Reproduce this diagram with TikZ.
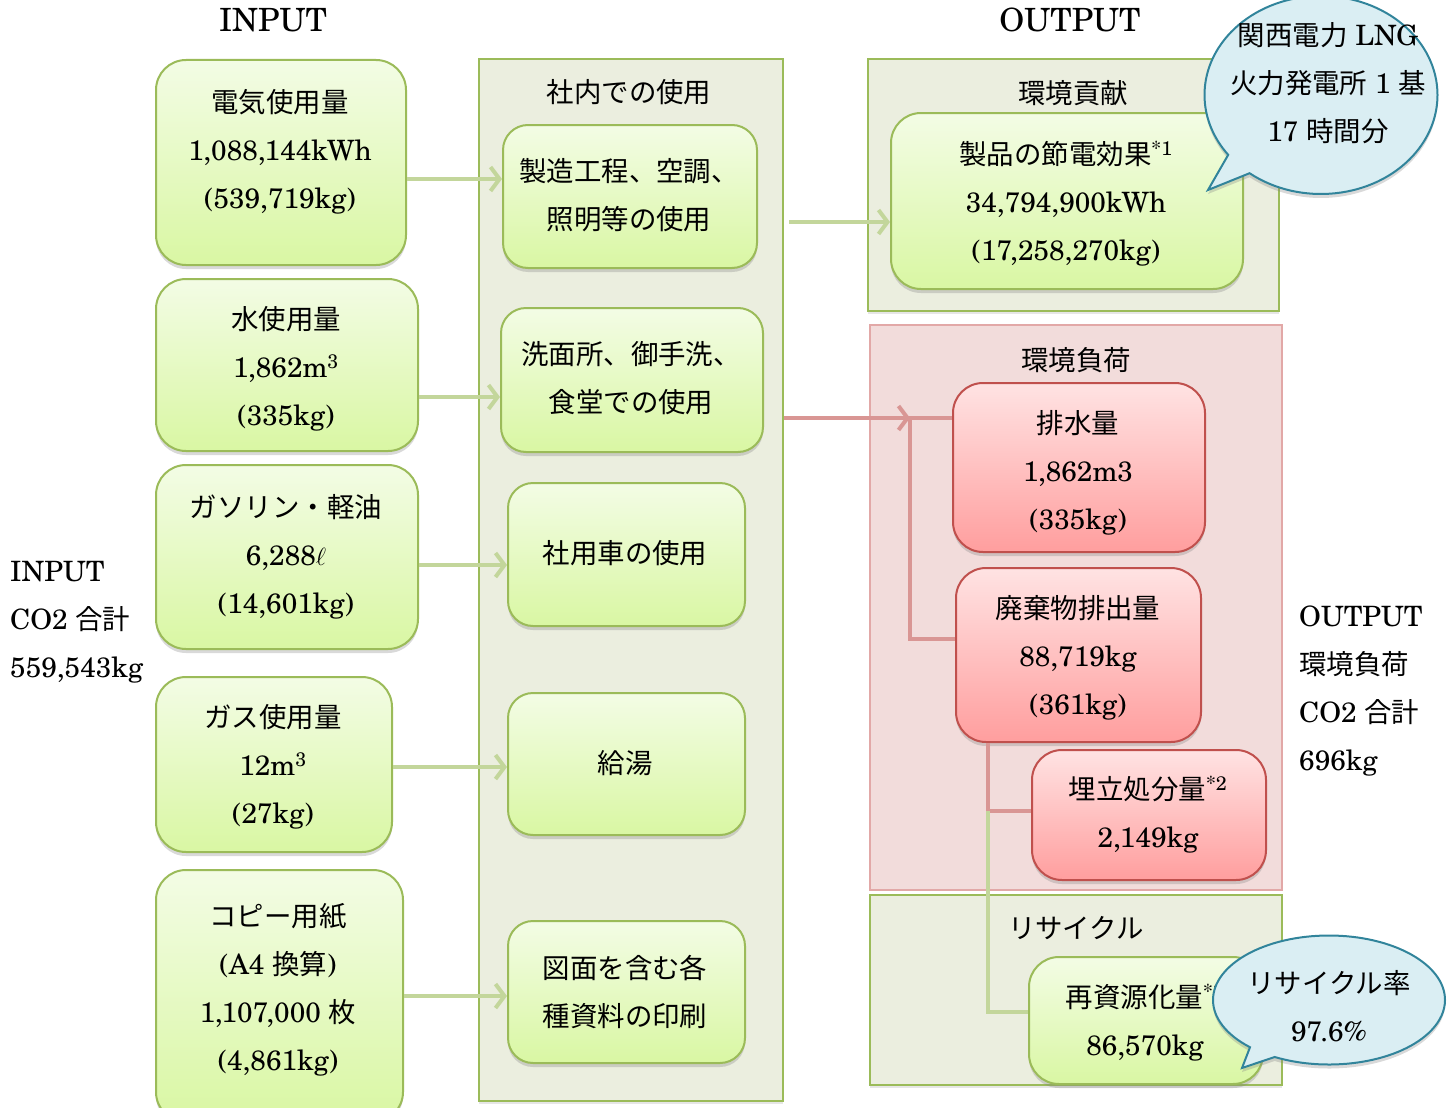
\documentclass[tikz,border=0pt]{standalone}
\usepackage{fontspec}
\setmainfont{texgyreschola-regular.otf}
\newfontfamily\jpf[Scale=0.98]{Noto Sans CJK JP}
\usetikzlibrary{arrows.meta,shadows,shapes.callouts}
\newcommand\J[1]{{\jpf #1}}
\definecolor{gborder}{HTML}{9BBB59}
\definecolor{gtop}{HTML}{F3FCE5}
\definecolor{gbot}{HTML}{D9F7A3}
\definecolor{rborder}{HTML}{C0504D}
\definecolor{rtop}{HTML}{FFE3E3}
\definecolor{rbot}{HTML}{FF9E9E}
\definecolor{cfill}{HTML}{EBEEDF}
\definecolor{pfill}{HTML}{F2DCDB}
\definecolor{pborder}{HTML}{E2A8A7}
\definecolor{garrow}{HTML}{C3D69B}
\definecolor{parrow}{HTML}{D99694}
\definecolor{bfill}{HTML}{DAEEF3}
\definecolor{bborder}{HTML}{31849B}
\tikzset{
  shad/.style={drop shadow={shadow xshift=0pt,shadow yshift=-4pt,opacity=0.3}},
  gbox/.style={draw=gborder, line width=2pt, rounded corners=30pt, top color=gtop, bottom color=gbot, shad, anchor=north west, inner sep=0pt},
  mbox/.style={gbox, rounded corners=25pt},
  rbox/.style={draw=rborder, line width=2pt, rounded corners=30pt, top color=rtop, bottom color=rbot, shad, anchor=north west, inner sep=0pt},
  cont/.style={draw=gborder, fill=cfill, line width=2pt, anchor=north west, inner sep=0pt, drop shadow={shadow xshift=0pt,shadow yshift=-3pt,opacity=0.2}},
  pcont/.style={draw=pborder, fill=pfill, line width=2pt, anchor=north west, inner sep=0pt},
  txt/.style={font=\fontsize{28}{48}\selectfont, align=center, inner sep=0pt},
  ltxt/.style={font=\fontsize{28}{48}\selectfont, align=left, inner sep=0pt, anchor=west},
  ttl/.style={font=\fontsize{32}{36}\selectfont, inner sep=0pt},
  garr/.style={draw=garrow, line width=4pt, -{Straight Barb[length=9pt,width=24pt]}},
  parr/.style={draw=parrow, line width=4pt, -{Straight Barb[length=9pt,width=24pt]}},
  gline/.style={draw=garrow, line width=4pt},
  pline/.style={draw=parrow, line width=4pt},
  bubble/.style={ellipse callout, draw=bborder, fill=bfill, line width=2pt, inner sep=0pt, shad},
}
\begin{document}
\begin{tikzpicture}[x=1pt,y=-1pt]
\useasboundingbox (0,0) rectangle (1451,1108);
% titles
\node[ttl] (tin) at (273,20) {INPUT};
\node[ttl] (tout) at (1070,20) {OUTPUT};
\node[ltxt] (sin) at (10,622) {INPUT\\CO2 \J{合計}\\559,543kg};
\node[ltxt] (sout) at (1299,691) {OUTPUT\\\J{環境負荷}\\CO2 \J{合計}\\696kg};

% containers
\node[cont, minimum width=304pt, minimum height=1042pt] (mc) at (478,58) {};
\node[txt] (mct) at (629,92) {\J{社内での使用}};
\node[cont, minimum width=411pt, minimum height=252pt] (oc1) at (867,58) {};
\node[txt] (oc1t) at (1073,93) {\J{環境貢献}};
\node[pcont, minimum width=412pt, minimum height=565pt] (oc2) at (869,324) {};
\node[txt] (oc2t) at (1076,360) {\J{環境負荷}};
\node[cont, minimum width=412pt, minimum height=190pt] (oc3) at (869,894) {};
\node[txt] (oc3t) at (1076,928) {\J{リサイクル}};

% input boxes
\node[gbox, minimum width=250pt, minimum height=205pt] (in1) at (155,59) {};
\node[txt] (in1t) at (280,152) {\J{電気使用量}\\1,088,144kWh\\(539,719kg)};
\node[gbox, minimum width=262pt, minimum height=172pt] (in2) at (155,278) {};
\node[txt] (in2t) at (286,369) {\J{水使用量}\\1,862m\textsuperscript{3}\\(335kg)};
\node[gbox, minimum width=262pt, minimum height=184pt] (in3) at (155,464) {};
\node[txt] (in3t) at (286,557) {\J{ガソリン・軽油}\\6,288$\ell$\\(14,601kg)};
\node[gbox, minimum width=236pt, minimum height=175pt] (in4) at (155,676) {};
\node[txt] (in4t) at (273,767) {\J{ガス使用量}\\12m\textsuperscript{3}\\(27kg)};
\node[gbox, minimum width=247pt, minimum height=252pt] (in5) at (155,869) {};
\node[txt] (in5t) at (278,990) {\J{コピー用紙}\\(A4 \J{換算})\\1,107,000 \J{枚}\\(4,861kg)};

% middle boxes
\node[mbox, minimum width=254pt, minimum height=143pt] (ma) at (502,124) {};
\node[txt] (mat) at (629,195.5) {\J{製造工程、空調、}\\\J{照明等の使用}};
\node[mbox, minimum width=262pt, minimum height=144pt] (mb) at (500,307) {};
\node[txt] (mbt) at (631,378.5) {\J{洗面所、御手洗、}\\\J{食堂での使用}};
\node[mbox, minimum width=237pt, minimum height=143pt] (mcar) at (507,482) {};
\node[txt] (mcart) at (625,553) {\J{社用車の使用}};
\node[mbox, minimum width=237pt, minimum height=142pt] (md) at (507,692) {};
\node[txt] (mdt) at (625,763) {\J{給湯}};
\node[mbox, minimum width=237pt, minimum height=142pt] (me) at (507,920) {};
\node[txt] (met) at (625,991.5) {\J{図面を含む各}\\\J{種資料の印刷}};

% output boxes
\node[gbox, minimum width=352pt, minimum height=176pt] (ob1) at (890,112) {};
\node[txt] (ob1t) at (1066,204) {\J{製品の節電効果}\textsuperscript{*1}\\34,794,900kWh\\(17,258,270kg)};
\node[rbox, minimum width=252pt, minimum height=169pt] (r1) at (952,382) {};
\node[txt] (r1t) at (1078,473) {\J{排水量}\\1,862m3\\(335kg)};
\node[rbox, minimum width=245pt, minimum height=174pt] (r2) at (955,567) {};
\node[txt] (r2t) at (1078,658) {\J{廃棄物排出量}\\88,719kg\\(361kg)};
\node[rbox, minimum width=234pt, minimum height=130pt] (r3) at (1031,749) {};
\node[txt] (r3t) at (1148,814.5) {\J{埋立処分量}\textsuperscript{*2}\\2,149kg};
\node[gbox, minimum width=234pt, minimum height=127pt] (g3) at (1028,956) {};
\node[txt] (g3t) at (1145,1022.5) {\J{再資源化量}\textsuperscript{*3}\\86,570kg};

% connector helper coordinates
\coordinate (y1) at (0,179);
\coordinate (y2) at (0,397);
\coordinate (y3) at (0,565);
\coordinate (y4) at (0,767);
\coordinate (y5) at (0,996);
\coordinate (y6) at (0,222);
\coordinate (j1) at (910,418);
\coordinate (j2) at (910,639);
\coordinate (j3) at (988,811);
\coordinate (j4) at (988,1012);

% arrows
\draw[garr] (in1.east |- y1) -- (ma.west |- y1);
\draw[garr] (in2.east |- y2) -- (mb.west |- y2);
\draw[garr] (in3.east |- y3) -- (mcar.west |- y3);
\draw[garr] (in4.east |- y4) -- (md.west |- y4);
\draw[garr] (in5.east |- y5) -- (me.west |- y5);
\draw[garr] ([xshift=5pt]mc.east |- y6) -- (ob1.west |- y6);
\draw[parr] (mc.east |- j1) -- (j1);
\draw[pline] (r1.west |- j1) -- (j1) |- (r2.west |- j2);
\draw[pline] (r2.south -| j3) -- (j3) -- (r3.west |- j3);
\draw[gline] (j3) |- (g3.west |- j4);

% callouts
\node[bubble, minimum width=233pt, minimum height=198pt, callout absolute pointer={(1208,190)}] (cb1) at (1321,95) {};
\node[txt] (cb1t) at (1328,83) {\J{関西電力} LNG\\\J{火力発電所} 1 \J{基}\\17 \J{時間分}};
\node[bubble, minimum width=232pt, minimum height=129pt, callout absolute pointer={(1242,1068)}] (cb2) at (1329,1000) {};
\node[txt] (cb2t) at (1329,1006) {\J{リサイクル率}\\97.6\%};
\end{tikzpicture}
\end{document}
